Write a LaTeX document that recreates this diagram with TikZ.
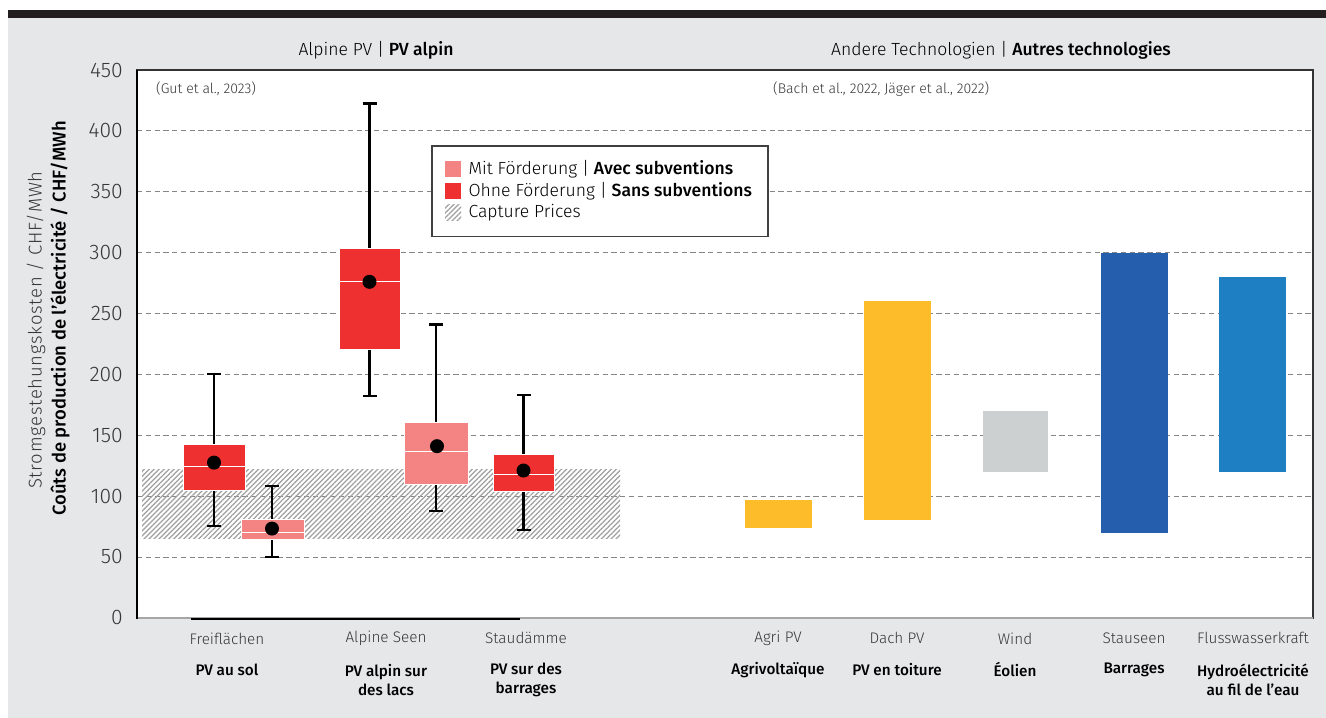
\documentclass[tikz,border=0pt]{standalone}
\usepackage{fontspec}
\setmainfont{Fira Sans}[BoldFont={Fira Sans Medium}]
\newfontfamily\lightfont{Fira Sans Light}
\newfontfamily\lightwidefont{Fira Sans Light}[LetterSpace=4]
\usepackage{tikz}
\usetikzlibrary{patterns}
\usetikzlibrary{patterns.meta}
\usetikzlibrary{positioning}

\definecolor{bgGray}{RGB}{230,231,233}
\definecolor{topBar}{RGB}{35,31,32}
\definecolor{redOhne}{RGB}{238,48,48}
\definecolor{pinkMit}{RGB}{244,132,132}
\definecolor{yellowPV}{RGB}{253,189,42}
\definecolor{windGray}{RGB}{205,208,209}
\definecolor{blueDam}{RGB}{36,94,173}
\definecolor{blueRiver}{RGB}{30,127,194}
\definecolor{lightText}{RGB}{55,55,55}

\begin{document}
\begin{tikzpicture}[x=0.02cm,y=0.024356cm]
\useasboundingbox (0,-82.1) rectangle (1326,507.5);
\fill[white] (0,-82.1) rectangle (1326,507.5);
\fill[topBar] (8,499.3) rectangle (1326,492.7);
\fill[bgGray] (8,492.7) rectangle (1326,-82.1);
\fill[white] (137,0) rectangle (1313,450);

% gridlines
\draw[gray!95,dash pattern=on 3pt off 2pt,line width=0.5pt] (137,50) -- (1313,50);
\draw[gray!95,dash pattern=on 3pt off 2pt,line width=0.5pt] (137,100) -- (1313,100);
\draw[gray!95,dash pattern=on 3pt off 2pt,line width=0.5pt] (137,150) -- (1313,150);
\draw[gray!95,dash pattern=on 3pt off 2pt,line width=0.5pt] (137,200) -- (1313,200);
\draw[gray!95,dash pattern=on 3pt off 2pt,line width=0.5pt] (137,250) -- (1313,250);
\draw[gray!95,dash pattern=on 3pt off 2pt,line width=0.5pt] (137,300) -- (1313,300);
\draw[gray!95,dash pattern=on 3pt off 2pt,line width=0.5pt] (137,350) -- (1313,350);
\draw[gray!95,dash pattern=on 3pt off 2pt,line width=0.5pt] (137,400) -- (1313,400);

% capture prices
\fill[pattern={Lines[angle=45,distance=2pt,line width=0.7pt]},pattern color=gray!75] (142,65) rectangle (620,122);

% Freiflaechen, ohne
\draw[line width=1.3pt] (214,75.5) -- (214,200);
\draw[line width=1.3pt] (207,75.5) -- (221,75.5);
\draw[line width=1.3pt] (207,200) -- (221,200);
\draw[fill=redOhne,draw=white,very thin] (183,105) rectangle (245,143);
\draw[white,thin] (183,124.8) -- (245,124.8);
\fill[black] (214,127.5) circle[radius=0.14cm];
% Freiflaechen, mit
\draw[line width=1.3pt] (272,50) -- (272,108);
\draw[line width=1.3pt] (265,50) -- (279,50);
\draw[line width=1.3pt] (265,108) -- (279,108);
\draw[fill=pinkMit,draw=white,very thin] (241,64.6) rectangle (304,81.3);
\draw[white,thin] (241,70) -- (304,70);
\fill[black] (272,73.3) circle[radius=0.14cm];
% Alpine Seen, ohne
\draw[line width=1.3pt] (369.5,182) -- (369.5,422.5);
\draw[line width=1.3pt] (362.5,182) -- (376.5,182);
\draw[line width=1.3pt] (362.5,422.5) -- (376.5,422.5);
\draw[fill=redOhne,draw=white,very thin] (339,221) rectangle (400,304);
\draw[white,thin] (339,276) -- (400,276);
\fill[black] (369.5,276) circle[radius=0.14cm];
% Alpine Seen, mit
\draw[line width=1.3pt] (436,88) -- (436,241);
\draw[line width=1.3pt] (429,88) -- (443,88);
\draw[line width=1.3pt] (429,241) -- (443,241);
\draw[fill=pinkMit,draw=white,very thin] (404,110) rectangle (468,160.7);
\draw[white,thin] (404,137) -- (468,137);
\fill[black] (437,141) circle[radius=0.14cm];
% Staudaemme, ohne
\draw[line width=1.3pt] (523.5,72) -- (523.5,183);
\draw[line width=1.3pt] (516.5,72) -- (530.5,72);
\draw[line width=1.3pt] (516.5,183) -- (530.5,183);
\draw[fill=redOhne,draw=white,very thin] (493,104.3) rectangle (554,134.4);
\draw[white,thin] (493,118) -- (554,118);
\fill[black] (523.5,121) circle[radius=0.14cm];

% andere Technologien
\fill[yellowPV] (745,74) rectangle (812,97);
\fill[yellowPV] (864,80) rectangle (931,260);
\fill[windGray] (983,120) rectangle (1048,170);
\fill[blueDam] (1101,70) rectangle (1168,300);
\fill[blueRiver] (1219,120) rectangle (1286,280);

% frame
\draw[black!80,line width=0.8pt] (137,0) rectangle (1313,450);
\draw[gray!70,line width=0.8pt] (137,0) -- (1313,0);
\draw[black,line width=1.2pt] (137,-1) -- (137,450);
\draw[black,line width=1.3pt] (191,-1) -- (520,-1);

% y ticks
\node[font=\fontsize{12}{14}\lightfont,text=lightText,anchor=east] (t0) at (129,0) {0};
\node[font=\fontsize{12}{14}\lightfont,text=lightText,anchor=east] (t50) at (129,50) {50};
\node[font=\fontsize{12}{14}\lightfont,text=lightText,anchor=east] (t100) at (129,100) {100};
\node[font=\fontsize{12}{14}\lightfont,text=lightText,anchor=east] (t150) at (129,150) {150};
\node[font=\fontsize{12}{14}\lightfont,text=lightText,anchor=east] (t200) at (129,200) {200};
\node[font=\fontsize{12}{14}\lightfont,text=lightText,anchor=east] (t250) at (129,250) {250};
\node[font=\fontsize{12}{14}\lightfont,text=lightText,anchor=east] (t300) at (129,300) {300};
\node[font=\fontsize{12}{14}\lightfont,text=lightText,anchor=east] (t350) at (129,350) {350};
\node[font=\fontsize{12}{14}\lightfont,text=lightText,anchor=east] (t400) at (129,400) {400};
\node[font=\fontsize{12}{14}\lightfont,text=lightText,anchor=east] (t450) at (129,450) {450};

% axis title
\node[font=\fontsize{10.5}{12}\lightwidefont,text=lightText,rotate=90,anchor=west] (ylight) at (36,100.8) {Stromgestehungskosten / CHF/MWh};
\node[font=\fontsize{10.5}{12}\bfseries,rotate=90,anchor=west] (ybold) at (60,78.8) {Coûts de production de l'électricité / CHF/MWh};

% titles and sources
\node[font=\fontsize{10}{12}] (alpTitle) at (376,466) {{\lightfont Alpine PV |} \textbf{PV alpin}};
\node[font=\fontsize{10}{12}] (andTitle) at (1001,466) {{\lightfont Andere Technologien |} \textbf{Autres technologies}};
\node[font=\fontsize{8}{10}\lightfont,text=lightText,anchor=west] (srcGut) at (150,434.4) {(Gut et al., 2023)};
\node[font=\fontsize{8}{10}\lightfont,text=lightText,anchor=west] (srcBach) at (767,434.4) {(Bach et al., 2022, Jäger et al., 2022)};

% legend
\draw[fill=white,draw=black!75,line width=0.7pt] (432,387.6) rectangle (768,313.1);
\node[rectangle,minimum width=0.32cm,minimum height=0.32cm,inner sep=0pt,fill=pinkMit] (legMit) at (453,368.4) {};
\node[font=\fontsize{10}{12},anchor=west,right=0.02cm of legMit] (legMitText) {{\lightfont Mit Förderung |} \textbf{Avec subventions}};
\node[rectangle,minimum width=0.32cm,minimum height=0.32cm,inner sep=0pt,fill=redOhne] (legOhne) at (453,350.6) {};
\node[font=\fontsize{10}{12},anchor=west,right=0.02cm of legOhne] (legOhneText) {{\lightfont Ohne Förderung |} \textbf{Sans subventions}};
\node[rectangle,minimum width=0.32cm,minimum height=0.32cm,inner sep=0pt,pattern={Lines[angle=45,distance=2pt,line width=0.7pt]},pattern color=gray!75] (legCap) at (453,332.8) {};
\node[font=\fontsize{10}{12}\lightfont,anchor=west,right=0.02cm of legCap] (legCapText) {Capture Prices};

% categories
\node[font=\fontsize{8.7}{11}\lightfont,text=lightText] (catFrei) at (227,-16.9) {Freiflächen};
\node[font=\fontsize{8.7}{11}\bfseries] (catFreiFr) at (227,-42.7) {PV au sol};
\node[font=\fontsize{8.7}{11}\lightfont,text=lightText] (catSeen) at (386,-16.9) {Alpine Seen};
\node[font=\fontsize{8.7}{11}\bfseries,align=center] (catSeenFr) at (386,-50.9) {PV alpin sur\\des lacs};
\node[font=\fontsize{8.7}{11}\lightfont,text=lightText] (catStau) at (526,-16.9) {Staudämme};
\node[font=\fontsize{8.7}{11}\bfseries,align=center] (catStauFr) at (526,-50.9) {PV sur des\\barrages};
\node[font=\fontsize{8.7}{11}\lightfont,text=lightText] (catAgri) at (778,-16.9) {Agri PV};
\node[font=\fontsize{8.7}{11}\bfseries] (catAgriFr) at (778,-42.7) {Agrivoltaïque};
\node[font=\fontsize{8.7}{11}\lightfont,text=lightText] (catDach) at (897,-16.9) {Dach PV};
\node[font=\fontsize{8.7}{11}\bfseries] (catDachFr) at (897,-42.7) {PV en toiture};
\node[font=\fontsize{8.7}{11}\lightfont,text=lightText] (catWind) at (1015,-16.9) {Wind};
\node[font=\fontsize{8.7}{11}\bfseries] (catWindFr) at (1015,-42.7) {Éolien};
\node[font=\fontsize{8.7}{11}\lightfont,text=lightText] (catStausee) at (1134,-16.9) {Stauseen};
\node[font=\fontsize{8.7}{11}\bfseries] (catStauseeFr) at (1134,-42.7) {Barrages};
\node[font=\fontsize{8.7}{11}\lightfont,text=lightText] (catFluss) at (1253,-16.9) {Flusswasserkraft};
\node[font=\fontsize{8.7}{11}\bfseries,align=center] (catFlussFr) at (1253,-50.9) {Hydroélectricité\\au fil de l'eau};

\end{tikzpicture}
\end{document}
